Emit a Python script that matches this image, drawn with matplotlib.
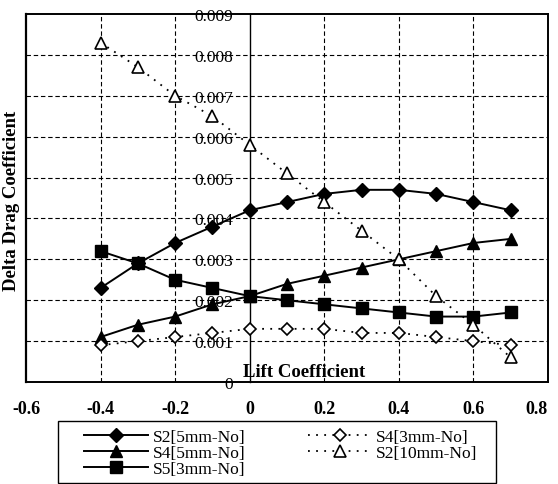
import numpy as np
import matplotlib
matplotlib.use("Agg")
from matplotlib import pyplot as plt
from matplotlib.ticker import FuncFormatter
from matplotlib.patches import Rectangle

plt.rcParams["font.family"] = ["Liberation Serif", "DejaVu Serif"]

# lift coefficient values
cl = [-0.4, -0.3, -0.2, -0.1, 0.0, 0.1, 0.2, 0.3, 0.4, 0.5, 0.6, 0.7]

s2_5mm = [0.0023, 0.0029, 0.0034, 0.0038, 0.0042, 0.0044, 0.0046, 0.0047, 0.0047, 0.0046, 0.0044, 0.0042]
s4_5mm = [0.0011, 0.0014, 0.0016, 0.0019, 0.0021, 0.0024, 0.0026, 0.0028, 0.0030, 0.0032, 0.0034, 0.0035]
s5_3mm = [0.0032, 0.0029, 0.0025, 0.0023, 0.0021, 0.0020, 0.0019, 0.0018, 0.0017, 0.0016, 0.0016, 0.0017]
s4_3mm = [0.0009, 0.0010, 0.0011, 0.0012, 0.0013, 0.0013, 0.0013, 0.0012, 0.0012, 0.0011, 0.0010, 0.0009]
s2_10mm = [0.0083, 0.0077, 0.0070, 0.0065, 0.0058, 0.0051, 0.0044, 0.0037, 0.0030, 0.0021, 0.0014, 0.0006]

xticks = [-0.6, -0.4, -0.2, 0, 0.2, 0.4, 0.6, 0.8]
yticks = [0, 0.001, 0.002, 0.003, 0.004, 0.005, 0.006, 0.007, 0.008, 0.009]

fig = plt.figure(figsize=(5.58, 4.85), dpi=100)
ax = fig.add_axes([26/558, 102/485, 522/558, 368/485])

# dashed grid
for gx in [-0.4, -0.2, 0.2, 0.4, 0.6]:
    ax.axvline(gx, color="k", lw=0.8, ls=(0, (4, 2.5)), zorder=1)
for gy in yticks[1:-1]:
    ax.axhline(gy, color="k", lw=0.8, ls=(0, (4, 2.5)), zorder=1)

ax.plot(cl, s2_5mm, "-", color="k", lw=1.4, marker="D", ms=7, mfc="k", mec="k", label="S2[5mm-No]", zorder=3)
ax.plot(cl, s4_5mm, "-", color="k", lw=1.4, marker="^", ms=9, mfc="k", mec="k", label="S4[5mm-No]", zorder=3)
ax.plot(cl, s5_3mm, "-", color="k", lw=1.4, marker="s", ms=8, mfc="k", mec="k", label="S5[3mm-No]", zorder=3)
ax.plot(cl, s4_3mm, ls=(0, (1, 3.5)), color="k", lw=1.3, marker="D", ms=6.5, mfc="white", mec="k", mew=1.2, label="S4[3mm-No]", zorder=4)
ax.plot(cl, s2_10mm, ls=(0, (1, 3.5)), color="k", lw=1.3, marker="^", ms=9, mfc="white", mec="k", mew=1.2, label="S2[10mm-No]", zorder=4)

ax.set_xlim(-0.6, 0.8)
ax.set_ylim(0, 0.009)

# y axis drawn through x = 0, box kept
ax.spines["left"].set_position(("data", 0))
ax.axvline(-0.6, color="k", lw=1.6, clip_on=False, zorder=5)
for s in ["left", "bottom", "top", "right"]:
    ax.spines[s].set_linewidth(1.4)
ax.spines["left"].set_linewidth(1.0)

ax.set_xticks(xticks)
ax.set_yticks(yticks)
ax.xaxis.set_major_formatter(FuncFormatter(lambda v, p: "0" if abs(v) < 1e-9 else "%g" % v))
ax.yaxis.set_major_formatter(FuncFormatter(lambda v, p: "0" if v == 0 else "%.3f" % v))
ax.tick_params(axis="x", length=0, pad=13, labelsize=13)
ax.tick_params(axis="y", length=0, pad=12, labelsize=12.5)
for t in ax.get_xticklabels():
    t.set_fontweight("bold")
ax.get_xticklabels()[-1].set_horizontalalignment("right")

ax.text(0.147, 0.00006, "Lift Coefficient", ha="center", va="bottom",
        fontsize=13.5, fontweight="bold", zorder=6)
fig.text(12/558, 1 - 201/485, "Delta Drag Coefficient", rotation=90, ha="center", va="center",
         fontsize=13.5, fontweight="bold")

# legend box is wider than its entries
fig.patches.append(Rectangle((58/558, 1 - 484/485), 438/558, 62/485, transform=fig.transFigure,
                             fill=False, edgecolor="k", lw=1.0))
leg = fig.legend(loc="upper left", bbox_to_anchor=(84/558, 1 - 430/485), ncol=2,
                 fontsize=12.5, frameon=False,
                 handlelength=3.7, labelspacing=0.0, columnspacing=3.6,
                 handletextpad=0.25, borderpad=0, borderaxespad=0)

fig.savefig("out.png", dpi=100)
